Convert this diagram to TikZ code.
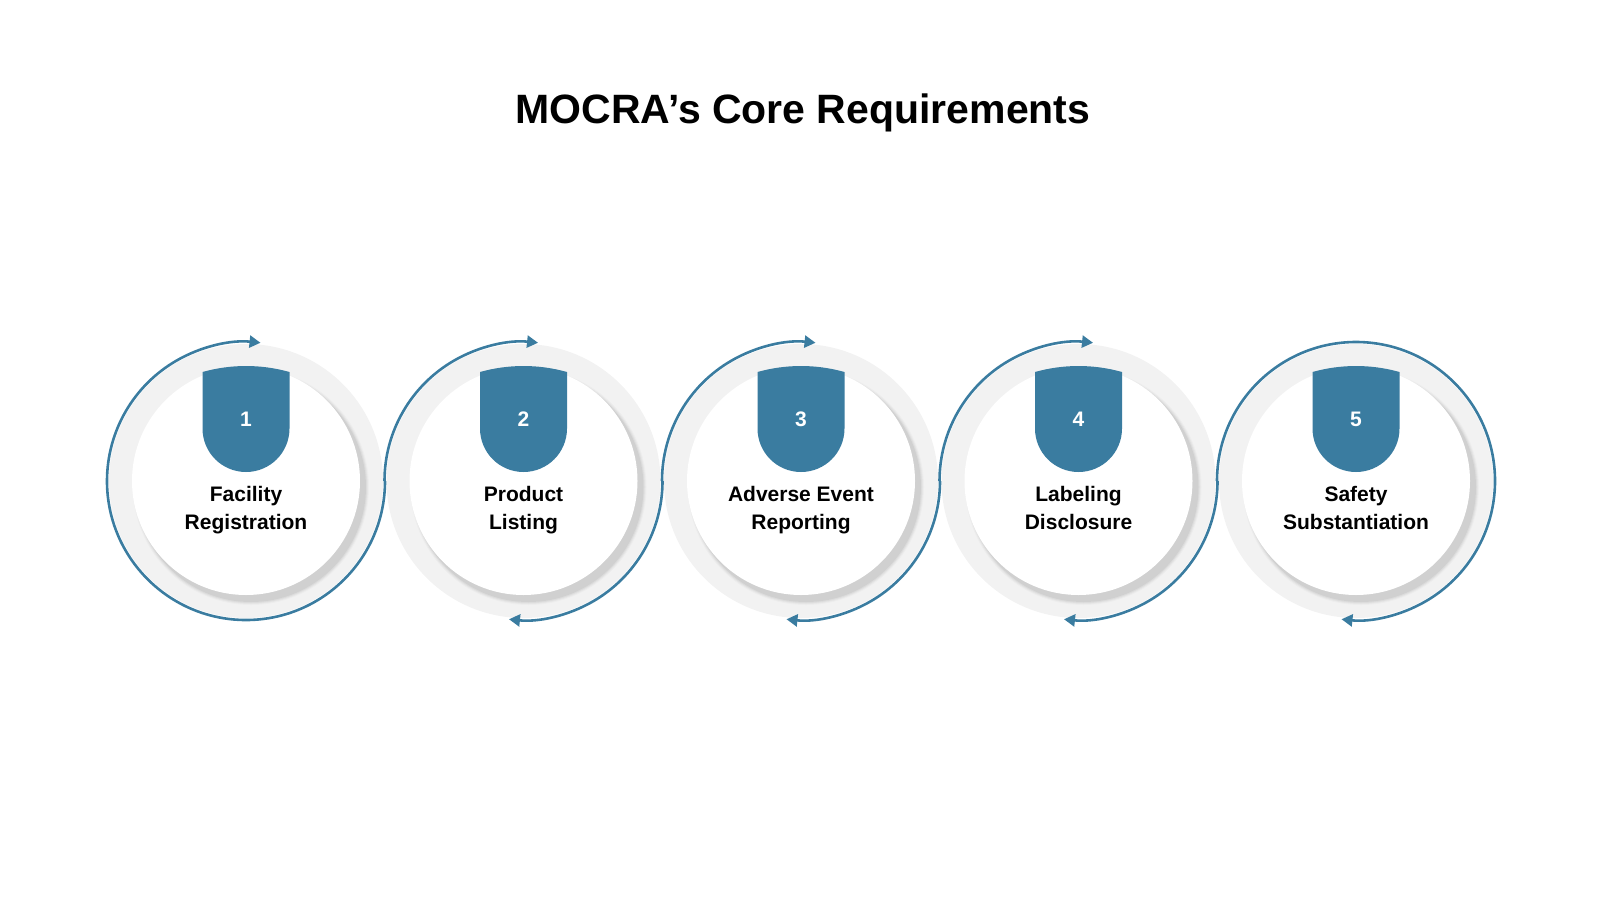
\documentclass[tikz,border=0pt]{standalone}
\usepackage{fontspec}
\setmainfont{Liberation Sans}
\usetikzlibrary{arrows.meta,calc}
\definecolor{blu}{HTML}{3A7CA0}
\definecolor{ring}{HTML}{F2F2F2}
\tikzset{
  conn/.style={blu, line width=2.6pt},
  tip/.style={-{Triangle[length=11pt,width=12pt]}},
  lbl/.style={font=\fontsize{21}{28}\selectfont\bfseries, align=center, text=black, text height=15pt, text depth=5pt},
  num/.style={font=\fontsize{21}{24}\selectfont\bfseries, text=white},
}
\begin{document}
\begin{tikzpicture}[x=1pt,y=-1pt]
\useasboundingbox (0,0) rectangle (1600,900);
\node[font=\fontsize{41}{48}\selectfont\bfseries] (title) at (803,113) {MOCRA’s Core Requirements};
\def\R{139}
\foreach \i/\cx/\la/\lb in {1/246/Facility/Registration,2/523.5/Product/Listing,3/801/Adverse Event/Reporting,4/1078.5/Labeling/Disclosure,5/1356/Safety/Substantiation}{
  \coordinate (c\i) at (\cx,481);
  \fill[ring] (c\i) circle (137);
  \foreach \k/\o in {8/0.02,6/0.03,4/0.04,2/0.05}{
    \fill[black,opacity=\o] ($(c\i)+(5,6)$) circle (114+\k*0.5);
  }
  \fill[white] (c\i) circle (114);
  \fill[blu] ($(c\i)+(-43.5,-52.5)$) -- ($(c\i)+(-43.5,-109)$) .. controls ($(c\i)+(-15,-117)$) and ($(c\i)+(15,-117)$) .. ($(c\i)+(43.5,-109)$) -- ($(c\i)+(43.5,-52.5)$) arc[start angle=0,end angle=180,radius=43.5] -- cycle;
  \node[num] (n\i) at ($(c\i)+(0,-62)$) {\i};
  \node[lbl] (t\i) at ($(c\i)+(0,43)$) {\la\\\lb};
}
\draw[conn,tip] ($(c1)+(\R,0)$) arc[start angle=0,end angle=276,radius=\R];
\foreach \i in {2,3,4}{
  \draw[conn,tip] ($(c\i)+(-\R,0)$) arc[start angle=180,end angle=276,radius=\R];
  \draw[conn,tip] ($(c\i)+(\R,0)$) arc[start angle=0,end angle=96,radius=\R];
}
\draw[conn,tip] ($(c5)+(-\R,0)$) arc[start angle=180,end angle=456,radius=\R];
\end{tikzpicture}
\end{document}
